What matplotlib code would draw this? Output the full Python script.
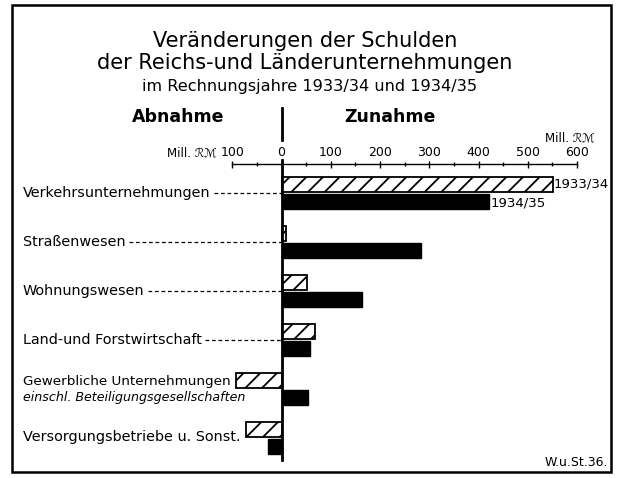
import matplotlib.pyplot as plt
from matplotlib.patches import Rectangle

# values (Mill. RM), negative = Abnahme
categories = ['Verkehrsunternehmungen', 'Straßenwesen', 'Wohnungswesen',
              'Land-und Forstwirtschaft', 'Gewerbliche Unternehmungen',
              'Versorgungsbetriebe u. Sonst.']
sublabels = ['', '', '', '', 'einschl. Beteiligungsgesellschaften', '']
v1933 = [551, 10, 52, 69, -93, -72]
v1934 = [422, 283, 164, 57, 54, -28]
ticks = [-100, 0, 100, 200, 300, 400, 500, 600]
minor_ticks = [-50, 50, 150, 250, 350, 450, 550]
leader = [True, True, True, True, False, False]

plt.rcParams['font.family'] = ['DejaVu Sans']
plt.rcParams['hatch.linewidth'] = 1.3

W, H = 618, 478
fig = plt.figure(figsize=(W / 100, H / 100), dpi=100)

# pixel overlay for text and frame
pa = fig.add_axes([0, 0, 1, 1])
pa.set_xlim(0, W)
pa.set_ylim(H, 0)
pa.axis('off')

# data axes: x in Mill. RM, y in pixels from top
x0, scale = 281.5, 295.5 / 600
ax = fig.add_axes([0, 0, 1, 1])
ax.set_xlim(-x0 / scale, (W - x0) / scale)
ax.set_ylim(H, 0)
ax.axis('off')

# frame
pa.add_patch(Rectangle((12, 5), 599, 467, fill=False, lw=1.8, ec='black'))

# titles
pa.text(305, 41, 'Veränderungen der Schulden', ha='center', va='center', fontsize=15)
pa.text(305, 63, 'der Reichs-und Länderunternehmungen', ha='center', va='center', fontsize=15)
pa.text(310, 86, 'im Rechnungsjahre 1933/34 und 1934/35', ha='center', va='center', fontsize=11.6)
pa.text(178, 117, 'Abnahme', ha='center', va='center', fontsize=12.5, fontweight='bold')
pa.text(390, 117, 'Zunahme', ha='center', va='center', fontsize=12.5, fontweight='bold')
pa.text(608, 462, 'W.u.St.36.', ha='right', va='center', fontsize=9)

# axis scale
ax.plot([0, 0], [108, 140], color='black', lw=2)
ax.plot([ticks[0], ticks[-1]], [164, 164], color='black', lw=1)
ax.vlines(ticks, 160.5, 167.5, color='black', lw=1)
ax.vlines(minor_ticks, 162, 166, color='black', lw=1)
for t in ticks:
    ax.text(t, 153, str(abs(t)), ha='center', va='center', fontsize=9)
pa.text(217, 153, 'Mill. ℛℳ', ha='right', va='center', fontsize=8.5)
pa.text(570, 138, 'Mill. ℛℳ', ha='center', va='center', fontsize=8.5)

# bars
y_first, gap, bh, off = 192.5, 49, 15, 8.5
ys = [y_first + i * gap for i in range(len(categories))]
ax.barh([y - off for y in ys], v1933, height=bh, color='white', edgecolor='black',
        hatch='//', linewidth=1.3)
ax.barh([y + off for y in ys], v1934, height=bh, color='black', edgecolor='black',
        linewidth=1)
ax.plot([0, 0], [160, 460], color='black', lw=2)

ax.text(v1933[0] + 2, ys[0] - off, '1933/34', ha='left', va='center', fontsize=9.5)
ax.text(v1934[0] + 2, ys[0] + off + 2, '1934/35', ha='left', va='center', fontsize=9.5)

# category labels with dashed leaders
fig.canvas.draw()
r = fig.canvas.get_renderer()
inv = ax.transData.inverted()
for i, (cat, sub, y) in enumerate(zip(categories, sublabels, ys)):
    if sub:
        pa.text(23, y - 6.5, cat, ha='left', va='center', fontsize=9.7)
        pa.text(23, y + 9.5, sub, ha='left', va='center', fontsize=9.1, style='italic')
    else:
        t = pa.text(23, y, cat, ha='left', va='center', fontsize=10.4)
        if leader[i]:
            bb = t.get_window_extent(r)
            xs = inv.transform((bb.x1 + 3, 0))[0]
            ax.plot([xs, 0], [y, y], color='black', lw=0.9, dashes=(3, 2.2))

fig.savefig('out.png', dpi=100)
